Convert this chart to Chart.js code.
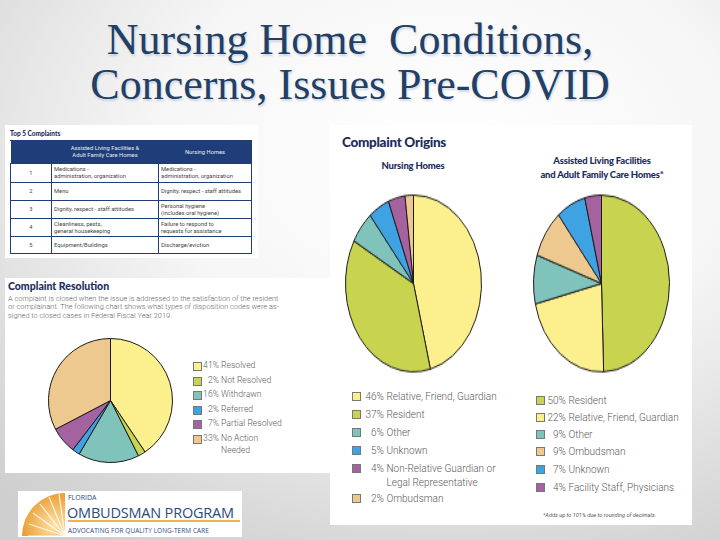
<!DOCTYPE html>
<html>
<head>
<meta charset="utf-8">
<script src="https://cdn.jsdelivr.net/npm/chart.js@4"></script>
<style>
  body { margin:0; }
  #slide {
    position:relative; width:720px; height:540px; overflow:hidden;
    background: radial-gradient(ellipse 90% 85% at 62% 28%, #ffffff 0%, #f6f6f6 45%, #d9d9d9 85%, #cfcfcf 100%);
    font-family: Roboto, "Noto Sans", sans-serif;
  }
  .abs { position:absolute; }
  #title {
    left:0; width:700px; top:17px; text-align:center;
    font-family:"Liberation Serif", serif; font-size:44px; line-height:45px;
    color:#223f66; text-shadow: 1px 2px 2px rgba(130,150,180,0.35); white-space:pre;
  }
  .panel { background:#fff; }
  .head { color:#1c2d5c; font-family:Lato, sans-serif; font-weight:900; }
  .legend { color:#5a5a5a; font-weight:300; }
  .legend .row { position:absolute; left:0; white-space:nowrap; }
  .legend .sw { position:absolute; width:9px; height:9px; border:0.5px solid #777; box-sizing:border-box; }
  .legend .pc { display:inline-block; text-align:right; }
  table { border-collapse:collapse; font-family:Roboto, sans-serif; }
  td { border:1px solid #1f3d78; color:#444; font-size:5.8px; line-height:6.8px; padding:0 2px; }
  th { background:#1f3d78; color:#e8ecf5; font-weight:400; font-size:5.8px; line-height:6.8px; border:1px solid #1f3d78; border-left-color:#fff; }
  .pie { position:absolute; }
  .logo { font-family:'Open Sans',sans-serif; color:#2b4a7e; white-space:nowrap; }
</style>
</head>
<body>
<div id="slide">
  <div id="title" class="abs">Nursing Home  Conditions,
Concerns, Issues Pre-COVID</div>

  <!-- top 5 complaints -->
  <div class="abs panel" style="left:5px;top:125px;width:253px;height:133px;"></div>
  <div class="abs head" style="left:10px;top:130px;font-size:6.5px;">Top 5 Complaints</div>
  <table id="tbl" class="abs" style="left:10px;top:140px;width:242px;height:113px;"></table>

  <!-- resolution -->
  <div class="abs panel" style="left:5px;top:278px;width:330px;height:195px;"></div>
  <div class="abs head" style="left:8px;top:280px;font-size:10.5px;">Complaint Resolution</div>
  <div class="abs legend" style="left:8px;top:295px;font-size:7.4px;line-height:8.4px;color:#666;white-space:pre;">A complaint is closed when the issue is addressed to the satisfaction of the resident
or complainant. The following chart shows what types of disposition codes were as-
signed to closed cases in Federal Fiscal Year 2019.</div>
  <div class="pie" style="left:48px;top:338px;width:125px;height:125px;"><canvas id="resPie"></canvas></div>
  <div id="resLeg" class="abs legend" style="left:193px;top:360px;font-size:8.6px;"></div>

  <!-- origins -->
  <div class="abs panel" style="left:330px;top:125px;width:362px;height:400px;"></div>
  <div class="abs head" style="left:342px;top:134px;font-size:13.5px;letter-spacing:-0.3px;">Complaint Origins</div>
  <div class="abs head" style="left:353px;width:120px;text-align:center;top:160px;font-size:9.5px;letter-spacing:-0.2px;">Nursing Homes</div>
  <div class="abs head" style="left:520px;width:164px;text-align:center;top:154px;font-size:9.5px;line-height:14px;letter-spacing:-0.2px;">Assisted Living Facilities<br>and Adult Family Care Homes*</div>
  <div class="pie" style="left:345px;top:215px;width:137px;height:137px;transform:scaleY(1.3);"><canvas id="nhPie"></canvas></div>
  <div class="pie" style="left:533px;top:215px;width:137px;height:137px;transform:scaleY(1.3);"><canvas id="alfPie"></canvas></div>
  <div id="nhLeg" class="abs legend" style="left:352px;top:390px;font-size:10px;"></div>
  <div id="alfLeg" class="abs legend" style="left:536px;top:394px;font-size:10px;"></div>
  <div class="abs" style="left:543px;top:512px;font-size:5.6px;font-style:italic;color:#555;">*Adds up to 101% due to rounding of decimals.</div>

  <!-- logo -->
  <div class="abs" style="left:18px;top:491px;width:224px;height:46px;background:#fff;"></div>
  <svg class="abs" style="left:20px;top:491px;" width="46" height="46" viewBox="0 0 46 46">
    <defs><radialGradient id="sg" cx="0.75" cy="0.75" r="0.8"><stop offset="0" stop-color="#fde2a8"/><stop offset="1" stop-color="#e99a2c"/></radialGradient></defs>
    <path d="M45 45 L45 2 A43 43 0 0 0 2 45 Z" fill="url(#sg)"/>
    <g stroke="#fff" stroke-width="1.2" opacity="0.85">
      <line x1="45" y1="45" x2="8" y2="45"/><line x1="45" y1="45" x2="9" y2="33"/><line x1="45" y1="45" x2="13" y2="22"/>
      <line x1="45" y1="45" x2="20" y2="13"/><line x1="45" y1="45" x2="29" y2="6"/><line x1="45" y1="45" x2="39" y2="3"/>
    </g>
  </svg>
  <div class="abs logo" style="left:68px;top:494px;font-size:7px;line-height:7px;">FLORIDA</div>
  <div class="abs logo" style="left:67px;top:507px;font-size:14.5px;line-height:12px;letter-spacing:-0.2px;">OMBUDSMAN PROGRAM</div>
  <div class="abs" style="left:68px;top:520px;width:172px;height:2px;background:#f0b24a;"></div>
  <div class="abs logo" style="left:68px;top:527px;font-size:6.4px;line-height:7px;letter-spacing:0.1px;">ADVOCATING FOR QUALITY LONG-TERM CARE</div>
</div>

<script>
// Top 5 Complaints
const rankNums = ['1', '2', '3', '4', '5'];
const alfComplaints = ['Medications -<br>administration, organization', 'Menu', 'Dignity, respect - staff attitudes', 'Cleanliness, pests,<br>general housekeeping', 'Equipment/Buildings'];
const nhComplaints = ['Medications -<br>administration, organization', 'Dignity, respect - staff attitudes', 'Personal hygiene<br>(includes oral hygiene)', 'Failure to respond to<br>requests for assistance', 'Discharge/eviction'];

// Complaint Resolution
const resLabels = ['Resolved', 'Not Resolved', 'Withdrawn', 'Referred', 'Partial Resolved', 'No Action<br>Needed'];
const resValues = [41, 2, 16, 2, 7, 33];

// Complaint Origins - Nursing Homes
const nhLabels = ['Relative, Friend, Guardian', 'Resident', 'Other', 'Unknown', 'Non-Relative Guardian or<br>Legal Representative', 'Ombudsman'];
const nhValues = [46, 37, 6, 5, 4, 2];

// Complaint Origins - ALF / AFCH
const alfLabels = ['Resident', 'Relative, Friend, Guardian', 'Other', 'Ombudsman', 'Unknown', 'Facility Staff, Physicians'];
const alfValues = [50, 22, 9, 9, 7, 4];

const C = { yellow:'#fcf08e', green:'#c8d44f', teal:'#80c3ba', blue:'#3fa2e2', purple:'#a4639f', tan:'#eec98f' };
const resColors = [C.yellow, C.green, C.teal, C.blue, C.purple, C.tan];
const nhColors = [C.yellow, C.green, C.teal, C.blue, C.purple, C.tan];
const alfColors = [C.green, C.yellow, C.teal, C.tan, C.blue, C.purple];

// table
let html = '<tr style="height:23px"><th style="width:38px"></th><th style="width:104px">Assisted Living Facilities &amp;<br>Adult Family Care Homes</th><th>Nursing Homes</th></tr>';
const rowH = [19, 18, 18, 18, 17];
rankNums.forEach((n, i) => {
  html += `<tr style="height:${rowH[i]}px"><td style="text-align:center">${n}</td><td>${alfComplaints[i]}</td><td>${nhComplaints[i]}</td></tr>`;
});
document.getElementById('tbl').innerHTML = html;

function makePie(id, values, colors) {
  new Chart(document.getElementById(id), {
    type: 'pie',
    data: { datasets: [{ data: values, backgroundColor: colors, borderColor: '#1a1a1a', borderWidth: 1 }] },
    options: {
      responsive: true, maintainAspectRatio: false, animation: false,
      layout: { padding: 0 },
      plugins: { legend: { display: false }, tooltip: { enabled: false } }
    }
  });
}
makePie('resPie', resValues, resColors);
makePie('nhPie', nhValues, nhColors);
makePie('alfPie', alfValues, alfColors);

function makeLegend(id, labels, values, colors, ys, pcW, gap) {
  const el = document.getElementById(id);
  labels.forEach((l, i) => {
    el.innerHTML += `<div class="sw" style="left:0;top:${ys[i] + 2}px;background:${colors[i]}"></div>` +
      `<div class="row" style="left:${gap}px;top:${ys[i]}px;line-height:1.35"><span class="pc" style="width:${pcW}px">${values[i]}%</span> ` +
      l.replace('<br>', `<br><span class="pc" style="width:${pcW}px"></span> `) + '</div>';
  });
}
makeLegend('resLeg', resLabels, resValues, resColors, [0, 15, 29, 44, 58, 73], 16, 10);
makeLegend('nhLeg', nhLabels, nhValues, nhColors, [0, 18, 36, 54, 72, 102], 20, 12);
makeLegend('alfLeg', alfLabels, alfValues, alfColors, [0, 17, 34, 51, 69, 87], 20, 10);
</script>
</body>
</html>
